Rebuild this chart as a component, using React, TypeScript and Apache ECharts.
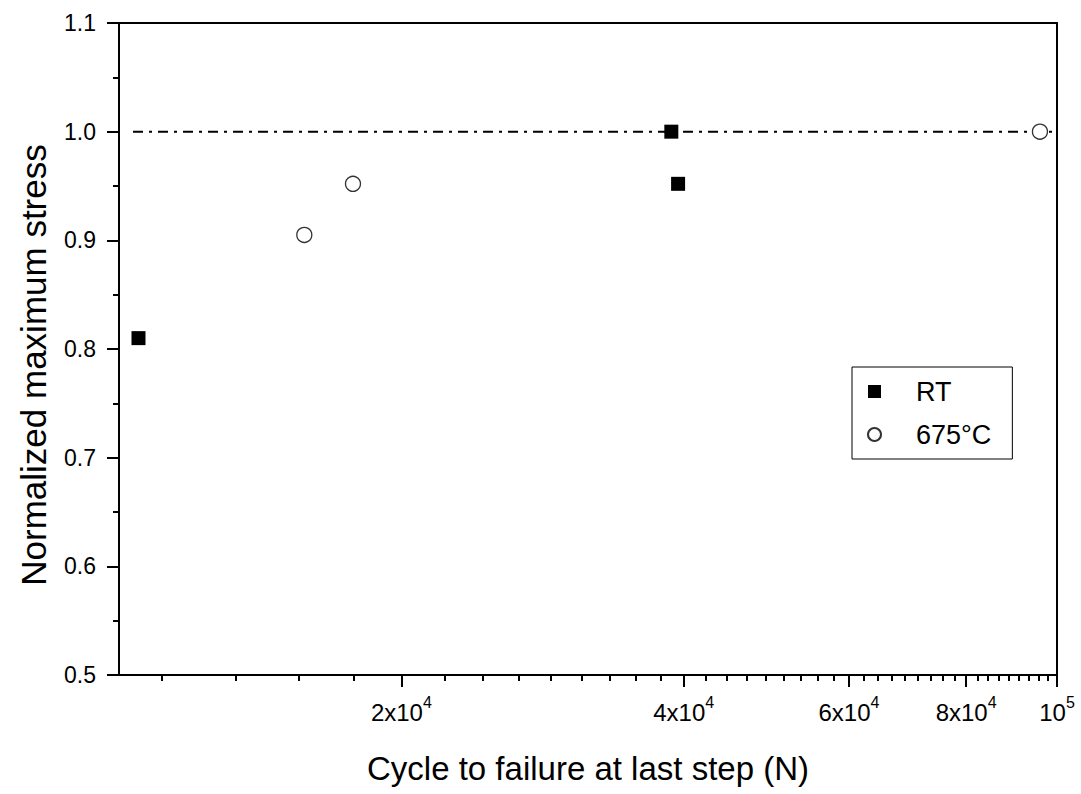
import React, { useEffect, useRef } from "react";
import * as echarts from "echarts";

const FONT = "Liberation Sans, Arial, sans-serif";

const xMin = 10000;
const xMax = 100000;
const xMajorTicks = [20000, 40000, 60000, 80000, 100000];
const xMajorLabels = ["2x10|4", "4x10|4", "6x10|4", "8x10|4", "10|5"];
const xMinorTicks = [
  11111, 13333, 15556, 17778,
  22222, 24444, 26667, 28889, 31111, 33333, 35556, 37778,
  42222, 44444, 46667, 48889, 51111, 53333, 55556, 57778,
  62222, 64444, 66667, 68889, 71111, 73333, 75556, 77778,
  82222, 84444, 86667, 88889, 91111, 93333, 95556, 97778,
];

const rtX = [10490, 38800, 39450];
const rtY = [0.81, 1.0, 0.952];
const hotX = [15760, 17760, 95900];
const hotY = [0.905, 0.952, 1.0];
const refX = [10350, 99000];
const refY = [1.0, 1.0];

const zip = (xs: number[], ys: number[]) => xs.map((x, i) => [x, ys[i]]);

export default function App() {
  const ref = useRef<HTMLDivElement>(null);
  useEffect(() => {
    if (!ref.current) return;
    const chart = echarts.init(ref.current, null, { renderer: "svg" });
    const fmtX = (v: number) => {
      const i = xMajorTicks.findIndex((t) => Math.abs(t - v) < 1);
      if (i < 0) return "";
      const [b, s] = xMajorLabels[i].split("|");
      return `{b|${b}}{s|${s}}`;
    };
    const common = {
      type: "log",
      logBase: 10,
      min: xMin,
      max: xMax,
      position: "bottom",
      splitLine: { show: false },
    };
    chart.setOption({
      animation: false,
      backgroundColor: "#fff",
      grid: {
        left: 119,
        right: 24,
        top: 23,
        bottom: 119,
        show: true,
        borderColor: "#000",
        borderWidth: 2,
        containLabel: false,
      },
      xAxis: [
        {
          ...common,
          axisLine: { show: true, lineStyle: { color: "#000", width: 2 } },
          axisTick: {
            show: true,
            customValues: xMajorTicks,
            length: 12,
            lineStyle: { color: "#000", width: 2 },
          },
          axisLabel: {
            show: true,
            customValues: xMajorTicks,
            formatter: fmtX,
            margin: 19,
            color: "#000",
            fontFamily: FONT,
            rich: {
              b: { fontSize: 24, fontFamily: FONT, color: "#000", lineHeight: 30, verticalAlign: "bottom" },
              s: { fontSize: 16, fontFamily: FONT, color: "#000", lineHeight: 16, verticalAlign: "top" },
            },
          },
          name: "Cycle to failure at last step (N)",
          nameLocation: "middle",
          nameGap: 77,
          nameTextStyle: { fontSize: 33, fontFamily: FONT, color: "#000" },
        },
        {
          ...common,
          axisLine: { show: false },
          axisTick: {
            show: true,
            customValues: xMinorTicks,
            length: 6,
            lineStyle: { color: "#000", width: 2 },
          },
          axisLabel: { show: false },
        },
      ],
      yAxis: {
        type: "value",
        min: 0.5,
        max: 1.1,
        interval: 0.1,
        axisLine: { show: true, lineStyle: { color: "#000", width: 2 } },
        axisTick: { show: true, length: 12, lineStyle: { color: "#000", width: 2 } },
        minorTick: { show: true, splitNumber: 2, length: 6, lineStyle: { color: "#000", width: 2 } },
        splitLine: { show: false },
        minorSplitLine: { show: false },
        axisLabel: {
          formatter: (v: number) => v.toFixed(1),
          fontSize: 23,
          fontFamily: FONT,
          color: "#000",
          margin: 23,
        },
        name: "Normalized maximum stress",
        nameLocation: "middle",
        nameGap: 68,
        nameTextStyle: { fontSize: 35, fontFamily: FONT, color: "#000", padding: [0, 32, 0, 0] },
      },
      legend: {
        data: [
          { name: "RT", icon: "rect" },
          { name: "675°C", icon: "circle" },
        ],
        orient: "vertical",
        left: 852,
        top: 367,
        itemWidth: 13,
        itemHeight: 13,
        itemGap: 16,
        padding: [11, 21, 11, 15],
        borderColor: "#000",
        borderWidth: 1,
        backgroundColor: "#fff",
        textStyle: { fontSize: 27, fontFamily: FONT, color: "#000", padding: [0, 0, 0, 30] },
      },
      series: [
        {
          name: "ref",
          type: "line",
          data: zip(refX, refY),
          symbol: "none",
          silent: true,
          lineStyle: { color: "#000", width: 2, type: [10, 6, 3, 6] },
          z: 1,
        },
        {
          name: "RT",
          type: "scatter",
          data: zip(rtX, rtY),
          symbol: "rect",
          symbolSize: 14,
          itemStyle: { color: "#000", opacity: 1 },
          z: 3,
        },
        {
          name: "675°C",
          type: "scatter",
          data: zip(hotX, hotY),
          symbol: "circle",
          symbolSize: 15,
          itemStyle: { color: "#fff", borderColor: "#333", borderWidth: 1.3, opacity: 1 },
          z: 3,
        },
      ],
    });
    return () => chart.dispose();
  }, []);
  return (
    <div
      ref={ref}
      style={{ position: "fixed", left: 0, top: 0, width: 1081, height: 794, background: "#fff" }}
    />
  );
}
